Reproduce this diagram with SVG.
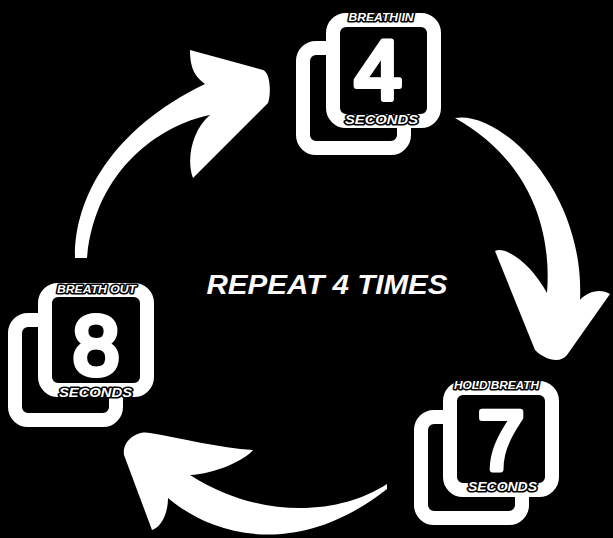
<svg xmlns="http://www.w3.org/2000/svg" width="613" height="538" viewBox="0 0 613 538">
<style>
.sq{fill:#000;stroke:#fff;stroke-width:14}
.lbl{font-family:"Liberation Sans",Arial,sans-serif;font-weight:bold;font-style:italic;fill:#fff;stroke:#000;stroke-width:3;paint-order:stroke;stroke-linejoin:round;text-anchor:middle}
.dig{font-family:"Liberation Sans",Arial,sans-serif;font-weight:normal;font-size:84px;fill:#fff;stroke:#fff;stroke-width:6;stroke-linejoin:round;stroke-linecap:round;text-anchor:middle}
.arr{fill:#fff}
.title{font-family:"Liberation Sans",Arial,sans-serif;font-weight:bold;font-style:italic;font-size:27px;fill:#fdfafa;text-anchor:middle}
</style>
<rect width="613" height="538" fill="#000"/>
<g id="connectors">
<path class="arr" d="M75 258 C74 200 110 130 205 84 C196 77 190 70 190 50 L263 70 C271 73 271 95 268 103 L193 178 C186 160 192 130 210 115 C160 125 95 170 87 258 Z"/>
<path class="arr" d="M455 118 C500 110 585 190 580 300 C585 293 600 287 610 294 L567 355 C560 364 545 360 535 350 L495 251 C505 246 530 262 547 293 C552 230 530 160 455 118 Z"/>
<path class="arr" d="M387 484 C340 515 260 520 190 475 C215 474 245 460 253 450 C220 448 180 438 150 433 C138 430 122 440 124 455 L152 530 C160 528 168 515 168 498 C205 530 290 565 387 489 Z"/>
</g>
<g id="node-breath-in">
<rect class="sq" x="303" y="48" width="101" height="100" rx="13"/>
<rect class="sq" x="333" y="20" width="101" height="101" rx="13"/>
<text class="dig" x="378" y="99">4</text>
<text class="lbl" x="381" y="21" font-size="11" textLength="65" lengthAdjust="spacingAndGlyphs">BREATH IN</text>
<text class="lbl" x="381.5" y="124" font-size="12.5" textLength="73" lengthAdjust="spacingAndGlyphs">SECONDS</text>
</g>
<g id="node-hold-breath">
<rect class="sq" x="421" y="417" width="101" height="101" rx="13"/>
<rect class="sq" x="450" y="388" width="102" height="102" rx="13"/>
<text class="dig" x="501" y="469">7</text>
<text class="lbl" x="496.5" y="389" font-size="11" textLength="85" lengthAdjust="spacingAndGlyphs">HOLD BREATH</text>
<text class="lbl" x="502.5" y="491" font-size="12.5" textLength="69" lengthAdjust="spacingAndGlyphs">SECONDS</text>
</g>
<g id="node-breath-out">
<rect class="sq" x="15" y="320" width="101" height="100" rx="13"/>
<rect class="sq" x="45" y="290" width="102" height="100" rx="13"/>
<text class="dig" x="96" y="374">8</text>
<text class="lbl" x="96.5" y="293" font-size="11" textLength="79" lengthAdjust="spacingAndGlyphs">BREATH OUT</text>
<text class="lbl" x="95.5" y="397" font-size="12.5" textLength="73" lengthAdjust="spacingAndGlyphs">SECONDS</text>
</g>
<g id="center-label">
<text class="title" x="327" y="294" textLength="241" lengthAdjust="spacingAndGlyphs">REPEAT 4 TIMES</text>
</g>
</svg>
